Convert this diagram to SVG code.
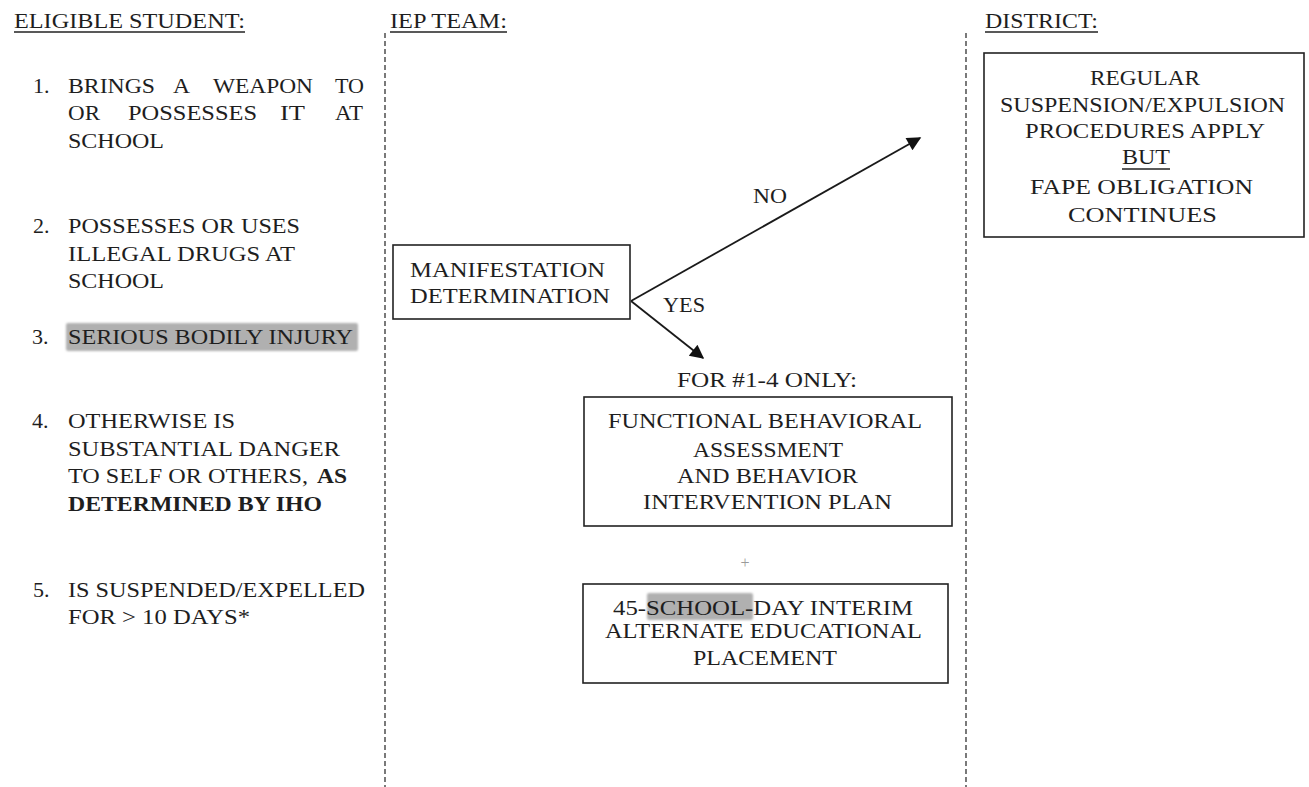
<svg xmlns="http://www.w3.org/2000/svg" width="1309" height="787" viewBox="0 0 1309 787">
<style>
.t{font-family:"Liberation Serif",serif;font-size:22px;fill:#1e1e1e}
.b{font-weight:bold}
.box{fill:#fff;stroke:#222;stroke-width:1.6}
.dash{stroke:#333;stroke-width:1.3;stroke-dasharray:5 3;fill:none}
.ul{stroke:#222;stroke-width:1.3}
.hl{fill:#b0b0b0;filter:url(#soft)}
.conn{stroke:#1a1a1a;stroke-width:1.8;fill:none}
.plus{font-family:"Liberation Serif",serif;font-size:16px;fill:#9a9a9a}
</style>
<defs>
<filter id="soft" x="-10%" y="-30%" width="120%" height="160%"><feGaussianBlur stdDeviation="1.3"/></filter>
<marker id="arrL" viewBox="0 0 10 10" refX="9" refY="5" markerWidth="18" markerHeight="14" markerUnits="userSpaceOnUse" orient="auto">
<path d="M0,0 L10,5 L0,10 z" fill="#111"/>
</marker>
</defs>
<rect width="1309" height="787" fill="#fff"/>
<g id="lanes">
<line class="dash" x1="385" y1="33" x2="385" y2="787"/>
<line class="dash" x1="966" y1="33" x2="966" y2="787"/>
</g>

<g id="headers">
<text class="t" x="14" y="28" textLength="231" lengthAdjust="spacingAndGlyphs">ELIGIBLE STUDENT:</text>
<line class="ul" x1="14" y1="32" x2="245" y2="32"/>
<text class="t" x="390" y="28" textLength="117" lengthAdjust="spacingAndGlyphs">IEP TEAM:</text>
<line class="ul" x1="390" y1="32" x2="507" y2="32"/>
<text class="t" x="985" y="28" textLength="113" lengthAdjust="spacingAndGlyphs">DISTRICT:</text>
<line class="ul" x1="985" y1="32" x2="1098" y2="32"/>
</g>

<g id="student-list">
<text class="t" x="33" y="93">1.</text>
<text class="t" x="68" y="93" textLength="87" lengthAdjust="spacingAndGlyphs">BRINGS</text>
<text class="t" x="173" y="93" textLength="17" lengthAdjust="spacingAndGlyphs">A</text>
<text class="t" x="213" y="93" textLength="100" lengthAdjust="spacingAndGlyphs">WEAPON</text>
<text class="t" x="335" y="93" textLength="29" lengthAdjust="spacingAndGlyphs">TO</text>
<text class="t" x="68" y="120" textLength="32" lengthAdjust="spacingAndGlyphs">OR</text>
<text class="t" x="128" y="120" textLength="129" lengthAdjust="spacingAndGlyphs">POSSESSES</text>
<text class="t" x="280" y="120" textLength="25" lengthAdjust="spacingAndGlyphs">IT</text>
<text class="t" x="335" y="120" textLength="28" lengthAdjust="spacingAndGlyphs">AT</text>
<text class="t" x="68" y="148" textLength="96" lengthAdjust="spacingAndGlyphs">SCHOOL</text>

<text class="t" x="33" y="233">2.</text>
<text class="t" x="68" y="233" textLength="232" lengthAdjust="spacingAndGlyphs">POSSESSES OR USES</text>
<text class="t" x="68" y="261" textLength="227" lengthAdjust="spacingAndGlyphs">ILLEGAL DRUGS AT</text>
<text class="t" x="68" y="288" textLength="96" lengthAdjust="spacingAndGlyphs">SCHOOL</text>

<rect class="hl" x="66" y="323" width="292" height="28" rx="2"/>
<text class="t" x="32" y="344">3.</text>
<text class="t" x="68" y="344" textLength="285" lengthAdjust="spacingAndGlyphs">SERIOUS BODILY INJURY</text>

<text class="t" x="32" y="428">4.</text>
<text class="t" x="68" y="428" textLength="167" lengthAdjust="spacingAndGlyphs">OTHERWISE IS</text>
<text class="t" x="68" y="456" textLength="272" lengthAdjust="spacingAndGlyphs">SUBSTANTIAL DANGER</text>
<text class="t" x="68" y="483" textLength="240" lengthAdjust="spacingAndGlyphs">TO SELF OR OTHERS,</text>
<text class="t b" x="317" y="483" textLength="30" lengthAdjust="spacingAndGlyphs">AS</text>
<text class="t b" x="68" y="511" textLength="254" lengthAdjust="spacingAndGlyphs">DETERMINED BY IHO</text>

<text class="t" x="33" y="597">5.</text>
<text class="t" x="68" y="597" textLength="297" lengthAdjust="spacingAndGlyphs">IS SUSPENDED/EXPELLED</text>
<text class="t" x="68" y="624" textLength="182" lengthAdjust="spacingAndGlyphs">FOR &gt; 10 DAYS*</text>
</g>

<g id="connectors">
<line class="conn" x1="631" y1="301" x2="920" y2="138" marker-end="url(#arrL)"/>
<line class="conn" x1="631" y1="301" x2="703" y2="358" marker-end="url(#arrL)"/>
<text class="t" x="753" y="203" textLength="34" lengthAdjust="spacingAndGlyphs">NO</text>
<text class="t" x="663" y="312" textLength="42" lengthAdjust="spacingAndGlyphs">YES</text>
</g>

<g id="manifestation">
<rect class="box" x="393" y="245" width="237" height="74"/>
<text class="t" x="410" y="277" textLength="195" lengthAdjust="spacingAndGlyphs">MANIFESTATION</text>
<text class="t" x="410" y="303" textLength="200" lengthAdjust="spacingAndGlyphs">DETERMINATION</text>
</g>

<g id="for-label">
<text class="t" x="677" y="387" textLength="180" lengthAdjust="spacingAndGlyphs">FOR #1-4 ONLY:</text>
</g>

<g id="fba">
<rect class="box" x="584" y="397" width="368" height="129"/>
<text class="t" x="608" y="428" textLength="314" lengthAdjust="spacingAndGlyphs">FUNCTIONAL BEHAVIORAL</text>
<text class="t" x="693" y="457" textLength="150" lengthAdjust="spacingAndGlyphs">ASSESSMENT</text>
<text class="t" x="677" y="483" textLength="181" lengthAdjust="spacingAndGlyphs">AND BEHAVIOR</text>
<text class="t" x="643" y="509" textLength="249" lengthAdjust="spacingAndGlyphs">INTERVENTION PLAN</text>
</g>

<g id="plus">
<text class="plus" x="745" y="568" text-anchor="middle">+</text>
</g>

<g id="iaes">
<rect class="box" x="583" y="584" width="365" height="99"/>
<rect class="hl" x="647" y="593" width="106" height="27" rx="2"/>
<text class="t" x="613" y="615" textLength="300" lengthAdjust="spacingAndGlyphs">45-SCHOOL-DAY INTERIM</text>
<text class="t" x="605" y="638" textLength="317" lengthAdjust="spacingAndGlyphs">ALTERNATE EDUCATIONAL</text>
<text class="t" x="693" y="665" textLength="144" lengthAdjust="spacingAndGlyphs">PLACEMENT</text>
</g>

<g id="district">
<rect class="box" x="984" y="53" width="320" height="184"/>
<text class="t" x="1090" y="85" textLength="110" lengthAdjust="spacingAndGlyphs">REGULAR</text>
<text class="t" x="1000" y="112" textLength="285" lengthAdjust="spacingAndGlyphs">SUSPENSION/EXPULSION</text>
<text class="t" x="1025" y="138" textLength="240" lengthAdjust="spacingAndGlyphs">PROCEDURES APPLY</text>
<text class="t" x="1122" y="164" textLength="48" lengthAdjust="spacingAndGlyphs">BUT</text>
<line class="ul" x1="1122" y1="169" x2="1170" y2="169"/>
<text class="t" x="1030" y="194" textLength="223" lengthAdjust="spacingAndGlyphs">FAPE OBLIGATION</text>
<text class="t" x="1068" y="222" textLength="149" lengthAdjust="spacingAndGlyphs">CONTINUES</text>
</g>
</svg>
